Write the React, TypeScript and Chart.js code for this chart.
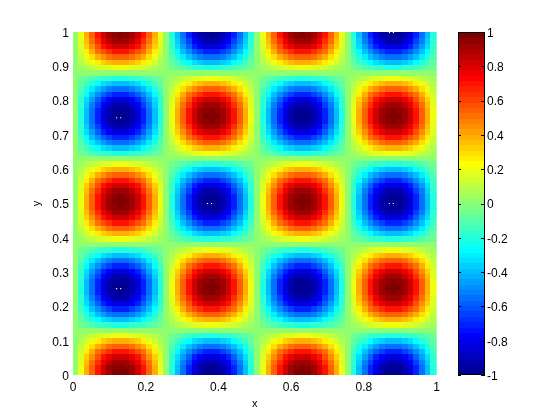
import { useEffect, useRef } from "react";
import { Chart, registerables } from "chart.js";
Chart.register(...registerables);

const xTicks = [0, 0.2, 0.4, 0.6, 0.8, 1];
const yTicks = [0, 0.1, 0.2, 0.3, 0.4, 0.5, 0.6, 0.7, 0.8, 0.9, 1];
const barTicks = [-1, -0.8, -0.6, -0.4, -0.2, 0, 0.2, 0.4, 0.6, 0.8, 1];
const barLevels = [-0.984,-0.953,-0.922,-0.891,-0.859,-0.828,-0.797,-0.766,-0.734,-0.703,-0.672,-0.641,-0.609,-0.578,-0.547,-0.516,-0.484,-0.453,-0.422,-0.391,-0.359,-0.328,-0.297,-0.266,-0.234,-0.203,-0.172,-0.141,-0.109,-0.078,-0.047,-0.016,0.016,0.047,0.078,0.109,0.141,0.172,0.203,0.234,0.266,0.297,0.328,0.359,0.391,0.422,0.453,0.484,0.516,0.547,0.578,0.609,0.641,0.672,0.703,0.734,0.766,0.797,0.828,0.859,0.891,0.922,0.953,0.984];
const speckX = [0.12, 0.131, 0.12, 0.131, 0.37, 0.381, 0.87, 0.881, 0.87, 0.881];
const speckY = [0.75, 0.75, 0.252, 0.252, 0.5, 0.5, 0.5, 0.5, 0.998, 0.998];
// cell values in percent, bottom row first
const grid = [
[0,20,38,56,71,83,92,98,100,98,92,83,71,56,38,20,0,-20,-38,-56,-71,-83,-92,-98,-100,-98,-92,-83,-71,-56,-38,-20,0,20,38,56,71,83,92,98,100,98,92,83,71,56,38,20,0,-20,-38,-56,-71,-83,-92,-98,-100,-98,-92,-83,-71,-56,-38,-20],
[0,19,38,55,69,82,91,96,98,96,91,82,69,55,38,19,0,-19,-38,-55,-69,-82,-91,-96,-98,-96,-91,-82,-69,-55,-38,-19,0,19,38,55,69,82,91,96,98,96,91,82,69,55,38,19,0,-19,-38,-55,-69,-82,-91,-96,-98,-96,-91,-82,-69,-55,-38,-19],
[0,18,35,51,65,77,85,91,92,91,85,77,65,51,35,18,0,-18,-35,-51,-65,-77,-85,-91,-92,-91,-85,-77,-65,-51,-35,-18,0,18,35,51,65,77,85,91,92,91,85,77,65,51,35,18,0,-18,-35,-51,-65,-77,-85,-91,-92,-91,-85,-77,-65,-51,-35,-18],
[0,16,32,46,59,69,77,82,83,82,77,69,59,46,32,16,0,-16,-32,-46,-59,-69,-77,-82,-83,-82,-77,-69,-59,-46,-32,-16,0,16,32,46,59,69,77,82,83,82,77,69,59,46,32,16,0,-16,-32,-46,-59,-69,-77,-82,-83,-82,-77,-69,-59,-46,-32,-16],
[0,14,27,39,50,59,65,69,71,69,65,59,50,39,27,14,0,-14,-27,-39,-50,-59,-65,-69,-71,-69,-65,-59,-50,-39,-27,-14,0,14,27,39,50,59,65,69,71,69,65,59,50,39,27,14,0,-14,-27,-39,-50,-59,-65,-69,-71,-69,-65,-59,-50,-39,-27,-14],
[0,11,21,31,39,46,51,55,56,55,51,46,39,31,21,11,0,-11,-21,-31,-39,-46,-51,-55,-56,-55,-51,-46,-39,-31,-21,-11,0,11,21,31,39,46,51,55,56,55,51,46,39,31,21,11,0,-11,-21,-31,-39,-46,-51,-55,-56,-55,-51,-46,-39,-31,-21,-11],
[0,7,15,21,27,32,35,38,38,38,35,32,27,21,15,7,0,-7,-15,-21,-27,-32,-35,-38,-38,-38,-35,-32,-27,-21,-15,-7,0,7,15,21,27,32,35,38,38,38,35,32,27,21,15,7,0,-7,-15,-21,-27,-32,-35,-38,-38,-38,-35,-32,-27,-21,-15,-7],
[0,4,7,11,14,16,18,19,20,19,18,16,14,11,7,4,0,-4,-7,-11,-14,-16,-18,-19,-20,-19,-18,-16,-14,-11,-7,-4,0,4,7,11,14,16,18,19,20,19,18,16,14,11,7,4,0,-4,-7,-11,-14,-16,-18,-19,-20,-19,-18,-16,-14,-11,-7,-4],
[0,0,0,0,0,0,0,0,0,0,0,0,0,0,0,0,0,0,0,0,0,0,0,0,0,0,0,0,0,0,0,0,0,0,0,0,0,0,0,0,0,0,0,0,0,0,0,0,0,0,0,0,0,0,0,0,0,0,0,0,0,0,0,0],
[0,-4,-7,-11,-14,-16,-18,-19,-20,-19,-18,-16,-14,-11,-7,-4,0,4,7,11,14,16,18,19,20,19,18,16,14,11,7,4,0,-4,-7,-11,-14,-16,-18,-19,-20,-19,-18,-16,-14,-11,-7,-4,0,4,7,11,14,16,18,19,20,19,18,16,14,11,7,4],
[0,-7,-15,-21,-27,-32,-35,-38,-38,-38,-35,-32,-27,-21,-15,-7,0,7,15,21,27,32,35,38,38,38,35,32,27,21,15,7,0,-7,-15,-21,-27,-32,-35,-38,-38,-38,-35,-32,-27,-21,-15,-7,0,7,15,21,27,32,35,38,38,38,35,32,27,21,15,7],
[0,-11,-21,-31,-39,-46,-51,-55,-56,-55,-51,-46,-39,-31,-21,-11,0,11,21,31,39,46,51,55,56,55,51,46,39,31,21,11,0,-11,-21,-31,-39,-46,-51,-55,-56,-55,-51,-46,-39,-31,-21,-11,0,11,21,31,39,46,51,55,56,55,51,46,39,31,21,11],
[0,-14,-27,-39,-50,-59,-65,-69,-71,-69,-65,-59,-50,-39,-27,-14,0,14,27,39,50,59,65,69,71,69,65,59,50,39,27,14,0,-14,-27,-39,-50,-59,-65,-69,-71,-69,-65,-59,-50,-39,-27,-14,0,14,27,39,50,59,65,69,71,69,65,59,50,39,27,14],
[0,-16,-32,-46,-59,-69,-77,-82,-83,-82,-77,-69,-59,-46,-32,-16,0,16,32,46,59,69,77,82,83,82,77,69,59,46,32,16,0,-16,-32,-46,-59,-69,-77,-82,-83,-82,-77,-69,-59,-46,-32,-16,0,16,32,46,59,69,77,82,83,82,77,69,59,46,32,16],
[0,-18,-35,-51,-65,-77,-85,-91,-92,-91,-85,-77,-65,-51,-35,-18,0,18,35,51,65,77,85,91,92,91,85,77,65,51,35,18,0,-18,-35,-51,-65,-77,-85,-91,-92,-91,-85,-77,-65,-51,-35,-18,0,18,35,51,65,77,85,91,92,91,85,77,65,51,35,18],
[0,-19,-38,-55,-69,-82,-91,-96,-98,-96,-91,-82,-69,-55,-38,-19,0,19,38,55,69,82,91,96,98,96,91,82,69,55,38,19,0,-19,-38,-55,-69,-82,-91,-96,-98,-96,-91,-82,-69,-55,-38,-19,0,19,38,55,69,82,91,96,98,96,91,82,69,55,38,19],
[0,-20,-38,-56,-71,-83,-92,-98,-100,-98,-92,-83,-71,-56,-38,-20,0,20,38,56,71,83,92,98,100,98,92,83,71,56,38,20,0,-20,-38,-56,-71,-83,-92,-98,-100,-98,-92,-83,-71,-56,-38,-20,0,20,38,56,71,83,92,98,100,98,92,83,71,56,38,20],
[0,-19,-38,-55,-69,-82,-91,-96,-98,-96,-91,-82,-69,-55,-38,-19,0,19,38,55,69,82,91,96,98,96,91,82,69,55,38,19,0,-19,-38,-55,-69,-82,-91,-96,-98,-96,-91,-82,-69,-55,-38,-19,0,19,38,55,69,82,91,96,98,96,91,82,69,55,38,19],
[0,-18,-35,-51,-65,-77,-85,-91,-92,-91,-85,-77,-65,-51,-35,-18,0,18,35,51,65,77,85,91,92,91,85,77,65,51,35,18,0,-18,-35,-51,-65,-77,-85,-91,-92,-91,-85,-77,-65,-51,-35,-18,0,18,35,51,65,77,85,91,92,91,85,77,65,51,35,18],
[0,-16,-32,-46,-59,-69,-77,-82,-83,-82,-77,-69,-59,-46,-32,-16,0,16,32,46,59,69,77,82,83,82,77,69,59,46,32,16,0,-16,-32,-46,-59,-69,-77,-82,-83,-82,-77,-69,-59,-46,-32,-16,0,16,32,46,59,69,77,82,83,82,77,69,59,46,32,16],
[0,-14,-27,-39,-50,-59,-65,-69,-71,-69,-65,-59,-50,-39,-27,-14,0,14,27,39,50,59,65,69,71,69,65,59,50,39,27,14,0,-14,-27,-39,-50,-59,-65,-69,-71,-69,-65,-59,-50,-39,-27,-14,0,14,27,39,50,59,65,69,71,69,65,59,50,39,27,14],
[0,-11,-21,-31,-39,-46,-51,-55,-56,-55,-51,-46,-39,-31,-21,-11,0,11,21,31,39,46,51,55,56,55,51,46,39,31,21,11,0,-11,-21,-31,-39,-46,-51,-55,-56,-55,-51,-46,-39,-31,-21,-11,0,11,21,31,39,46,51,55,56,55,51,46,39,31,21,11],
[0,-7,-15,-21,-27,-32,-35,-38,-38,-38,-35,-32,-27,-21,-15,-7,0,7,15,21,27,32,35,38,38,38,35,32,27,21,15,7,0,-7,-15,-21,-27,-32,-35,-38,-38,-38,-35,-32,-27,-21,-15,-7,0,7,15,21,27,32,35,38,38,38,35,32,27,21,15,7],
[0,-4,-7,-11,-14,-16,-18,-19,-20,-19,-18,-16,-14,-11,-7,-4,0,4,7,11,14,16,18,19,20,19,18,16,14,11,7,4,0,-4,-7,-11,-14,-16,-18,-19,-20,-19,-18,-16,-14,-11,-7,-4,0,4,7,11,14,16,18,19,20,19,18,16,14,11,7,4],
[0,0,0,0,0,0,0,0,0,0,0,0,0,0,0,0,0,0,0,0,0,0,0,0,0,0,0,0,0,0,0,0,0,0,0,0,0,0,0,0,0,0,0,0,0,0,0,0,0,0,0,0,0,0,0,0,0,0,0,0,0,0,0,0],
[0,4,7,11,14,16,18,19,20,19,18,16,14,11,7,4,0,-4,-7,-11,-14,-16,-18,-19,-20,-19,-18,-16,-14,-11,-7,-4,0,4,7,11,14,16,18,19,20,19,18,16,14,11,7,4,0,-4,-7,-11,-14,-16,-18,-19,-20,-19,-18,-16,-14,-11,-7,-4],
[0,7,15,21,27,32,35,38,38,38,35,32,27,21,15,7,0,-7,-15,-21,-27,-32,-35,-38,-38,-38,-35,-32,-27,-21,-15,-7,0,7,15,21,27,32,35,38,38,38,35,32,27,21,15,7,0,-7,-15,-21,-27,-32,-35,-38,-38,-38,-35,-32,-27,-21,-15,-7],
[0,11,21,31,39,46,51,55,56,55,51,46,39,31,21,11,0,-11,-21,-31,-39,-46,-51,-55,-56,-55,-51,-46,-39,-31,-21,-11,0,11,21,31,39,46,51,55,56,55,51,46,39,31,21,11,0,-11,-21,-31,-39,-46,-51,-55,-56,-55,-51,-46,-39,-31,-21,-11],
[0,14,27,39,50,59,65,69,71,69,65,59,50,39,27,14,0,-14,-27,-39,-50,-59,-65,-69,-71,-69,-65,-59,-50,-39,-27,-14,0,14,27,39,50,59,65,69,71,69,65,59,50,39,27,14,0,-14,-27,-39,-50,-59,-65,-69,-71,-69,-65,-59,-50,-39,-27,-14],
[0,16,32,46,59,69,77,82,83,82,77,69,59,46,32,16,0,-16,-32,-46,-59,-69,-77,-82,-83,-82,-77,-69,-59,-46,-32,-16,0,16,32,46,59,69,77,82,83,82,77,69,59,46,32,16,0,-16,-32,-46,-59,-69,-77,-82,-83,-82,-77,-69,-59,-46,-32,-16],
[0,18,35,51,65,77,85,91,92,91,85,77,65,51,35,18,0,-18,-35,-51,-65,-77,-85,-91,-92,-91,-85,-77,-65,-51,-35,-18,0,18,35,51,65,77,85,91,92,91,85,77,65,51,35,18,0,-18,-35,-51,-65,-77,-85,-91,-92,-91,-85,-77,-65,-51,-35,-18],
[0,19,38,55,69,82,91,96,98,96,91,82,69,55,38,19,0,-19,-38,-55,-69,-82,-91,-96,-98,-96,-91,-82,-69,-55,-38,-19,0,19,38,55,69,82,91,96,98,96,91,82,69,55,38,19,0,-19,-38,-55,-69,-82,-91,-96,-98,-96,-91,-82,-69,-55,-38,-19],
[0,20,38,56,71,83,92,98,100,98,92,83,71,56,38,20,0,-20,-38,-56,-71,-83,-92,-98,-100,-98,-92,-83,-71,-56,-38,-20,0,20,38,56,71,83,92,98,100,98,92,83,71,56,38,20,0,-20,-38,-56,-71,-83,-92,-98,-100,-98,-92,-83,-71,-56,-38,-20],
[0,19,38,55,69,82,91,96,98,96,91,82,69,55,38,19,0,-19,-38,-55,-69,-82,-91,-96,-98,-96,-91,-82,-69,-55,-38,-19,0,19,38,55,69,82,91,96,98,96,91,82,69,55,38,19,0,-19,-38,-55,-69,-82,-91,-96,-98,-96,-91,-82,-69,-55,-38,-19],
[0,18,35,51,65,77,85,91,92,91,85,77,65,51,35,18,0,-18,-35,-51,-65,-77,-85,-91,-92,-91,-85,-77,-65,-51,-35,-18,0,18,35,51,65,77,85,91,92,91,85,77,65,51,35,18,0,-18,-35,-51,-65,-77,-85,-91,-92,-91,-85,-77,-65,-51,-35,-18],
[0,16,32,46,59,69,77,82,83,82,77,69,59,46,32,16,0,-16,-32,-46,-59,-69,-77,-82,-83,-82,-77,-69,-59,-46,-32,-16,0,16,32,46,59,69,77,82,83,82,77,69,59,46,32,16,0,-16,-32,-46,-59,-69,-77,-82,-83,-82,-77,-69,-59,-46,-32,-16],
[0,14,27,39,50,59,65,69,71,69,65,59,50,39,27,14,0,-14,-27,-39,-50,-59,-65,-69,-71,-69,-65,-59,-50,-39,-27,-14,0,14,27,39,50,59,65,69,71,69,65,59,50,39,27,14,0,-14,-27,-39,-50,-59,-65,-69,-71,-69,-65,-59,-50,-39,-27,-14],
[0,11,21,31,39,46,51,55,56,55,51,46,39,31,21,11,0,-11,-21,-31,-39,-46,-51,-55,-56,-55,-51,-46,-39,-31,-21,-11,0,11,21,31,39,46,51,55,56,55,51,46,39,31,21,11,0,-11,-21,-31,-39,-46,-51,-55,-56,-55,-51,-46,-39,-31,-21,-11],
[0,7,15,21,27,32,35,38,38,38,35,32,27,21,15,7,0,-7,-15,-21,-27,-32,-35,-38,-38,-38,-35,-32,-27,-21,-15,-7,0,7,15,21,27,32,35,38,38,38,35,32,27,21,15,7,0,-7,-15,-21,-27,-32,-35,-38,-38,-38,-35,-32,-27,-21,-15,-7],
[0,4,7,11,14,16,18,19,20,19,18,16,14,11,7,4,0,-4,-7,-11,-14,-16,-18,-19,-20,-19,-18,-16,-14,-11,-7,-4,0,4,7,11,14,16,18,19,20,19,18,16,14,11,7,4,0,-4,-7,-11,-14,-16,-18,-19,-20,-19,-18,-16,-14,-11,-7,-4],
[0,0,0,0,0,0,0,0,0,0,0,0,0,0,0,0,0,0,0,0,0,0,0,0,0,0,0,0,0,0,0,0,0,0,0,0,0,0,0,0,0,0,0,0,0,0,0,0,0,0,0,0,0,0,0,0,0,0,0,0,0,0,0,0],
[0,-4,-7,-11,-14,-16,-18,-19,-20,-19,-18,-16,-14,-11,-7,-4,0,4,7,11,14,16,18,19,20,19,18,16,14,11,7,4,0,-4,-7,-11,-14,-16,-18,-19,-20,-19,-18,-16,-14,-11,-7,-4,0,4,7,11,14,16,18,19,20,19,18,16,14,11,7,4],
[0,-7,-15,-21,-27,-32,-35,-38,-38,-38,-35,-32,-27,-21,-15,-7,0,7,15,21,27,32,35,38,38,38,35,32,27,21,15,7,0,-7,-15,-21,-27,-32,-35,-38,-38,-38,-35,-32,-27,-21,-15,-7,0,7,15,21,27,32,35,38,38,38,35,32,27,21,15,7],
[0,-11,-21,-31,-39,-46,-51,-55,-56,-55,-51,-46,-39,-31,-21,-11,0,11,21,31,39,46,51,55,56,55,51,46,39,31,21,11,0,-11,-21,-31,-39,-46,-51,-55,-56,-55,-51,-46,-39,-31,-21,-11,0,11,21,31,39,46,51,55,56,55,51,46,39,31,21,11],
[0,-14,-27,-39,-50,-59,-65,-69,-71,-69,-65,-59,-50,-39,-27,-14,0,14,27,39,50,59,65,69,71,69,65,59,50,39,27,14,0,-14,-27,-39,-50,-59,-65,-69,-71,-69,-65,-59,-50,-39,-27,-14,0,14,27,39,50,59,65,69,71,69,65,59,50,39,27,14],
[0,-16,-32,-46,-59,-69,-77,-82,-83,-82,-77,-69,-59,-46,-32,-16,0,16,32,46,59,69,77,82,83,82,77,69,59,46,32,16,0,-16,-32,-46,-59,-69,-77,-82,-83,-82,-77,-69,-59,-46,-32,-16,0,16,32,46,59,69,77,82,83,82,77,69,59,46,32,16],
[0,-18,-35,-51,-65,-77,-85,-91,-92,-91,-85,-77,-65,-51,-35,-18,0,18,35,51,65,77,85,91,92,91,85,77,65,51,35,18,0,-18,-35,-51,-65,-77,-85,-91,-92,-91,-85,-77,-65,-51,-35,-18,0,18,35,51,65,77,85,91,92,91,85,77,65,51,35,18],
[0,-19,-38,-55,-69,-82,-91,-96,-98,-96,-91,-82,-69,-55,-38,-19,0,19,38,55,69,82,91,96,98,96,91,82,69,55,38,19,0,-19,-38,-55,-69,-82,-91,-96,-98,-96,-91,-82,-69,-55,-38,-19,0,19,38,55,69,82,91,96,98,96,91,82,69,55,38,19],
[0,-20,-38,-56,-71,-83,-92,-98,-100,-98,-92,-83,-71,-56,-38,-20,0,20,38,56,71,83,92,98,100,98,92,83,71,56,38,20,0,-20,-38,-56,-71,-83,-92,-98,-100,-98,-92,-83,-71,-56,-38,-20,0,20,38,56,71,83,92,98,100,98,92,83,71,56,38,20],
[0,-19,-38,-55,-69,-82,-91,-96,-98,-96,-91,-82,-69,-55,-38,-19,0,19,38,55,69,82,91,96,98,96,91,82,69,55,38,19,0,-19,-38,-55,-69,-82,-91,-96,-98,-96,-91,-82,-69,-55,-38,-19,0,19,38,55,69,82,91,96,98,96,91,82,69,55,38,19],
[0,-18,-35,-51,-65,-77,-85,-91,-92,-91,-85,-77,-65,-51,-35,-18,0,18,35,51,65,77,85,91,92,91,85,77,65,51,35,18,0,-18,-35,-51,-65,-77,-85,-91,-92,-91,-85,-77,-65,-51,-35,-18,0,18,35,51,65,77,85,91,92,91,85,77,65,51,35,18],
[0,-16,-32,-46,-59,-69,-77,-82,-83,-82,-77,-69,-59,-46,-32,-16,0,16,32,46,59,69,77,82,83,82,77,69,59,46,32,16,0,-16,-32,-46,-59,-69,-77,-82,-83,-82,-77,-69,-59,-46,-32,-16,0,16,32,46,59,69,77,82,83,82,77,69,59,46,32,16],
[0,-14,-27,-39,-50,-59,-65,-69,-71,-69,-65,-59,-50,-39,-27,-14,0,14,27,39,50,59,65,69,71,69,65,59,50,39,27,14,0,-14,-27,-39,-50,-59,-65,-69,-71,-69,-65,-59,-50,-39,-27,-14,0,14,27,39,50,59,65,69,71,69,65,59,50,39,27,14],
[0,-11,-21,-31,-39,-46,-51,-55,-56,-55,-51,-46,-39,-31,-21,-11,0,11,21,31,39,46,51,55,56,55,51,46,39,31,21,11,0,-11,-21,-31,-39,-46,-51,-55,-56,-55,-51,-46,-39,-31,-21,-11,0,11,21,31,39,46,51,55,56,55,51,46,39,31,21,11],
[0,-7,-15,-21,-27,-32,-35,-38,-38,-38,-35,-32,-27,-21,-15,-7,0,7,15,21,27,32,35,38,38,38,35,32,27,21,15,7,0,-7,-15,-21,-27,-32,-35,-38,-38,-38,-35,-32,-27,-21,-15,-7,0,7,15,21,27,32,35,38,38,38,35,32,27,21,15,7],
[0,-4,-7,-11,-14,-16,-18,-19,-20,-19,-18,-16,-14,-11,-7,-4,0,4,7,11,14,16,18,19,20,19,18,16,14,11,7,4,0,-4,-7,-11,-14,-16,-18,-19,-20,-19,-18,-16,-14,-11,-7,-4,0,4,7,11,14,16,18,19,20,19,18,16,14,11,7,4],
[0,0,0,0,0,0,0,0,0,0,0,0,0,0,0,0,0,0,0,0,0,0,0,0,0,0,0,0,0,0,0,0,0,0,0,0,0,0,0,0,0,0,0,0,0,0,0,0,0,0,0,0,0,0,0,0,0,0,0,0,0,0,0,0],
[0,4,7,11,14,16,18,19,20,19,18,16,14,11,7,4,0,-4,-7,-11,-14,-16,-18,-19,-20,-19,-18,-16,-14,-11,-7,-4,0,4,7,11,14,16,18,19,20,19,18,16,14,11,7,4,0,-4,-7,-11,-14,-16,-18,-19,-20,-19,-18,-16,-14,-11,-7,-4],
[0,7,15,21,27,32,35,38,38,38,35,32,27,21,15,7,0,-7,-15,-21,-27,-32,-35,-38,-38,-38,-35,-32,-27,-21,-15,-7,0,7,15,21,27,32,35,38,38,38,35,32,27,21,15,7,0,-7,-15,-21,-27,-32,-35,-38,-38,-38,-35,-32,-27,-21,-15,-7],
[0,11,21,31,39,46,51,55,56,55,51,46,39,31,21,11,0,-11,-21,-31,-39,-46,-51,-55,-56,-55,-51,-46,-39,-31,-21,-11,0,11,21,31,39,46,51,55,56,55,51,46,39,31,21,11,0,-11,-21,-31,-39,-46,-51,-55,-56,-55,-51,-46,-39,-31,-21,-11],
[0,14,27,39,50,59,65,69,71,69,65,59,50,39,27,14,0,-14,-27,-39,-50,-59,-65,-69,-71,-69,-65,-59,-50,-39,-27,-14,0,14,27,39,50,59,65,69,71,69,65,59,50,39,27,14,0,-14,-27,-39,-50,-59,-65,-69,-71,-69,-65,-59,-50,-39,-27,-14],
[0,16,32,46,59,69,77,82,83,82,77,69,59,46,32,16,0,-16,-32,-46,-59,-69,-77,-82,-83,-82,-77,-69,-59,-46,-32,-16,0,16,32,46,59,69,77,82,83,82,77,69,59,46,32,16,0,-16,-32,-46,-59,-69,-77,-82,-83,-82,-77,-69,-59,-46,-32,-16],
[0,18,35,51,65,77,85,91,92,91,85,77,65,51,35,18,0,-18,-35,-51,-65,-77,-85,-91,-92,-91,-85,-77,-65,-51,-35,-18,0,18,35,51,65,77,85,91,92,91,85,77,65,51,35,18,0,-18,-35,-51,-65,-77,-85,-91,-92,-91,-85,-77,-65,-51,-35,-18],
[0,19,38,55,69,82,91,96,98,96,91,82,69,55,38,19,0,-19,-38,-55,-69,-82,-91,-96,-98,-96,-91,-82,-69,-55,-38,-19,0,19,38,55,69,82,91,96,98,96,91,82,69,55,38,19,0,-19,-38,-55,-69,-82,-91,-96,-98,-96,-91,-82,-69,-55,-38,-19],
];

function jet(v: number) {
  const k = Math.min(63, Math.max(0, Math.floor(((v + 1) / 2) * 64)));
  const x = (k + 1) / 64;
  const c = (t: number) => Math.round(255 * Math.max(0, Math.min(1, t)));
  return `rgb(${c(Math.min(4 * x - 1.5, -4 * x + 4.5))},${c(Math.min(4 * x - 0.5, -4 * x + 3.5))},${c(Math.min(4 * x + 0.5, -4 * x + 2.5))})`;
}
function swatch(w: number, h: number, col: string) {
  const s = document.createElement("canvas");
  s.width = w; s.height = h;
  const g = s.getContext("2d")!;
  g.fillStyle = col; g.fillRect(0, 0, w, h);
  return s;
}
const FONT = "'Liberation Sans', Arial, sans-serif";
const crisp = { id: "crisp", beforeDatasetsDraw(c: any) { c.ctx.imageSmoothingEnabled = false; } };
const barFrame = {
  id: "barFrame",
  afterDatasetsDraw(c: any) {
    const { ctx, chartArea: a, scales } = c;
    ctx.save();
    ctx.strokeStyle = "#000"; ctx.lineWidth = 1;
    ctx.strokeRect(a.left + 0.5, a.top + 0.5, a.right - a.left - 1, a.bottom - a.top - 1);
    ctx.beginPath();
    for (const t of barTicks) {
      const y = Math.round(scales.y.getPixelForValue(t)) + 0.5;
      ctx.moveTo(a.left, y); ctx.lineTo(a.left + 3, y);
      ctx.moveTo(a.right, y); ctx.lineTo(a.right - 4, y);
    }
    ctx.stroke();
    ctx.restore();
  },
};

export default function App() {
  const mainRef = useRef<HTMLCanvasElement>(null);
  const barRef = useRef<HTMLCanvasElement>(null);
  useEffect(() => {
    const nx = grid[0].length, ny = grid.length;
    const cw = Math.ceil(364 / nx) + 1, ch = Math.ceil(343 / ny) + 1;
    const cache: Record<string, HTMLCanvasElement> = {};
    const sw = (v: number) => { const col = jet(v); return (cache[col] ||= swatch(cw, ch, col)); };
    const cells: any[] = []; const styles: any[] = [];
    grid.forEach((row, j) => row.forEach((v, i) => {
      cells.push({ x: (i + 0.5) / nx, y: (j + 0.5) / ny });
      styles.push(sw(v / 100));
    }));
    const font = { family: FONT, size: 12 };
    const main = new Chart(mainRef.current!, {
      type: "scatter",
      data: { datasets: [
        { data: speckX.map((x, i) => ({ x, y: speckY[i] })), pointStyle: "rect", pointRadius: 0.8, pointBackgroundColor: "#fff", pointBorderWidth: 0, clip: 0 } as any,
        { data: cells, pointStyle: styles, pointRadius: 3, clip: 0 } as any,
      ] },
      options: {
        animation: false, responsive: false,
        layout: { padding: { top: 32, right: 8, left: 0, bottom: 0 } },
        plugins: { legend: { display: false }, tooltip: { enabled: false } },
        scales: {
          x: { type: "linear", min: 0, max: 1, grid: { display: false, drawTicks: false }, border: { display: false },
            afterBuildTicks: (s: any) => { s.ticks = xTicks.map((value) => ({ value })); },
            afterFit: (s: any) => { s.height = 45; },
            ticks: { autoSkip: false, maxRotation: 0, padding: 5, color: "#000", font, callback: (v: any) => String(v) },
            title: { display: true, text: "x", color: "#000", font: { family: FONT, size: 11 }, padding: { top: 0, bottom: 9 } } },
          y: { type: "linear", min: 0, max: 1, grid: { display: false, drawTicks: false }, border: { display: false },
            afterBuildTicks: (s: any) => { s.ticks = yTicks.map((value) => ({ value })); },
            afterFit: (s: any) => { s.width = 73; },
            ticks: { autoSkip: false, padding: 4, labelOffset: 1.5, color: "#000", font, callback: (v: any) => String(v) },
            title: { display: true, text: "y", color: "#000", font: { family: FONT, size: 11 }, padding: { top: 30, bottom: 0 } } },
        },
      },
      plugins: [crisp],
    } as any);
    const barH = Math.ceil(343 / barLevels.length) + 1;
    const bar = new Chart(barRef.current!, {
      type: "scatter",
      data: { datasets: [{
        data: barLevels.map((y) => ({ x: 0.5, y })),
        pointStyle: barLevels.map((v) => swatch(29, barH, jet(v))),
        pointRadius: 3, clip: 0,
      } as any] },
      options: {
        animation: false, responsive: false,
        layout: { padding: { top: 32, right: 0, left: 13, bottom: 45 } },
        plugins: { legend: { display: false }, tooltip: { enabled: false } },
        scales: {
          x: { type: "linear", min: 0, max: 1, display: false },
          y: { type: "linear", position: "right", min: -1, max: 1, grid: { display: false, drawTicks: false }, border: { display: false },
            afterBuildTicks: (s: any) => { s.ticks = barTicks.map((value) => ({ value })); },
            afterFit: (s: any) => { s.width = 75; },
            ticks: { autoSkip: false, padding: 2, labelOffset: 1.5, color: "#000", font, callback: (v: any) => String(v) } },
        },
      },
      plugins: [crisp, barFrame],
    } as any);
    return () => { main.destroy(); bar.destroy(); };
  }, []);
  return (
    <div style={{ position: "fixed", left: 0, top: 0, width: 560, height: 420, background: "#fff", overflow: "hidden" }}>
      <canvas ref={mainRef} width={445} height={420} style={{ position: "absolute", left: 0, top: 0 }} />
      <canvas ref={barRef} width={115} height={420} style={{ position: "absolute", left: 445, top: 0 }} />
    </div>
  );
}
